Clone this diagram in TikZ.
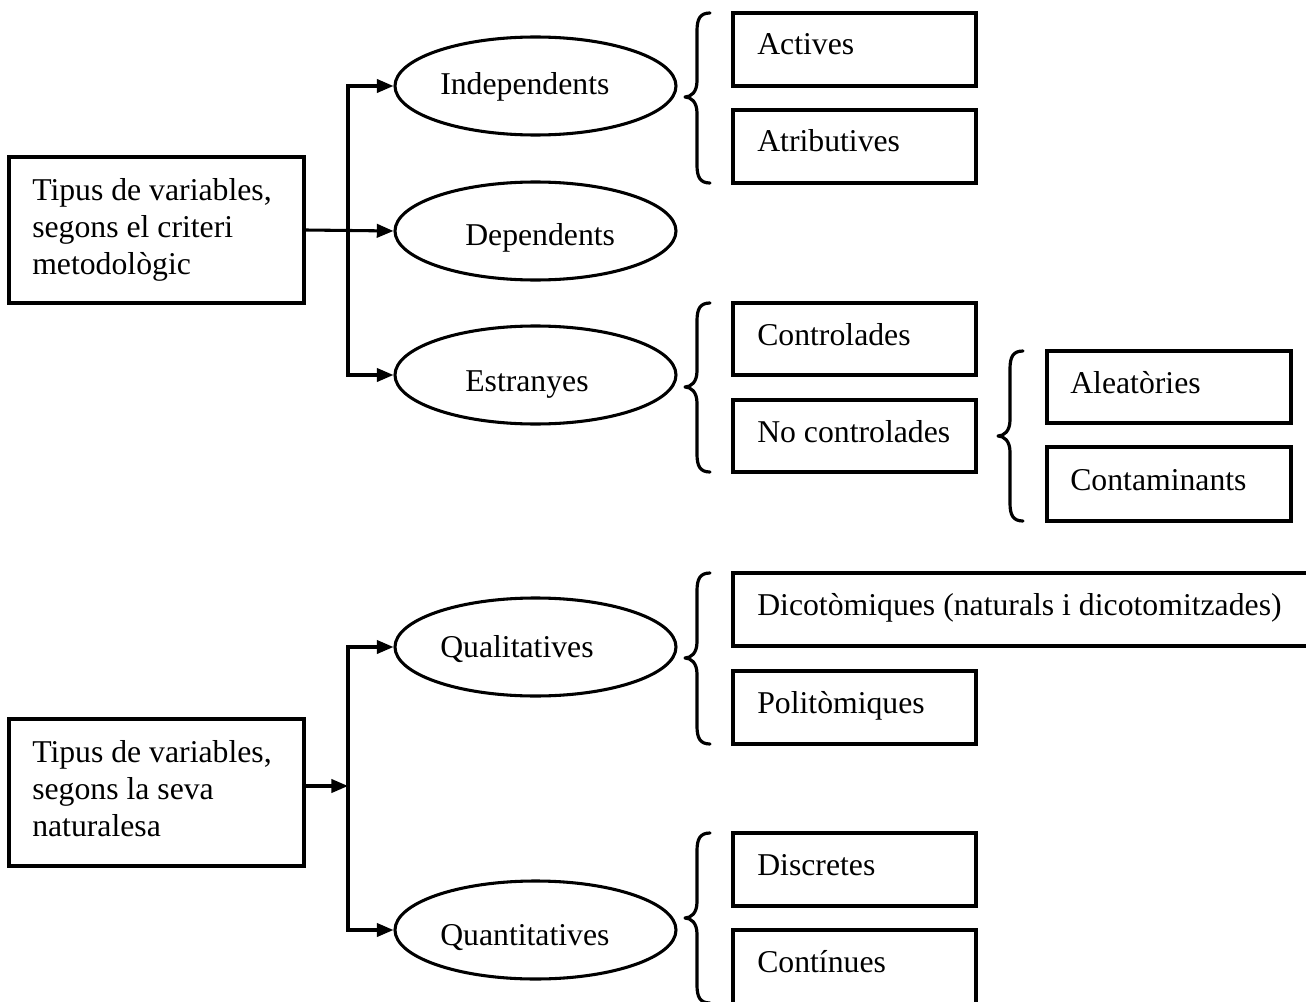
\documentclass[tikz,border=0pt]{standalone}
\usepackage{fontspec}
\setmainfont{Liberation Serif}
\usetikzlibrary{arrows.meta,fit,calc,shapes.geometric}

% Curly brace opening to the right: tip x, top y, tip y, bottom y
\newcommand{\openbrace}[4]{%
  \draw[curly] ({#1+25},#2) .. controls ({#1+15},#2) and ({#1+12},{#2+6}) .. ({#1+12},{#2+18})
    -- ({#1+12},{#3-16}) .. controls ({#1+12},{#3-5}) and ({#1+6},#3) .. (#1,#3)
    .. controls ({#1+6},#3) and ({#1+12},{#3+5}) .. ({#1+12},{#3+16})
    -- ({#1+12},{#4-18}) .. controls ({#1+12},{#4-6}) and ({#1+15},#4) .. ({#1+25},#4);}

\begin{document}
\begin{tikzpicture}[x=0.75pt,y=-0.75pt,
  frame/.style={draw, line width=2.4pt, rectangle, inner sep=0pt},
  oval/.style={draw, line width=2.3pt, ellipse, inner sep=0pt,
    minimum width=210.75pt, minimum height=73.5pt},
  lbl/.style={inner sep=0pt, font=\fontsize{23.8}{27.7}\selectfont},
  arr/.style={line width=2.3pt, -{Triangle[length=12.5pt,width=10pt]}},
  curly/.style={line width=2.4pt, line cap=round, line join=round}]

\fill[white] (0,0) rectangle (1306,1002);
\useasboundingbox (0,0) rectangle (1306,1002);
\clip (0,0) rectangle (1306,1002);

% ---------- methodological criterion ----------
\node[frame, fit={(9,157) (304,303)}] (ta) {};
\node[lbl, anchor=north west, align=left] (ta-t) at (32,178)
  {Tipus de variables,\\segons el criteri\\metodològic};

\node[oval] (ind) at (535.5,86) {};
\node[oval] (dep) at (535.5,231) {};
\node[oval] (est) at (535.5,375) {};
\node[lbl, anchor=base west] (ind-t) at (440,95) {Independents};
\node[lbl, anchor=base west] (dep-t) at (465,245) {Dependents};
\node[lbl, anchor=base west] (est-t) at (465,391) {Estranyes};

\coordinate (j1) at (348,231);
\draw[arr] (ta.east) -- (dep.west);
\draw[arr, line join=miter] (j1) |- (ind.west);
\draw[arr, line join=miter] (j1) |- (est.west);

\openbrace{685}{13}{97}{183}
\node[frame, fit={(733,13) (976,86)}] (act) {};
\node[frame, fit={(733,110) (976,183)}] (atr) {};
\node[lbl, anchor=base west] (act-t) at (757,55) {Actives};
\node[lbl, anchor=base west] (atr-t) at (757,152) {Atributives};

\openbrace{685}{303}{387}{472}
\node[frame, fit={(733,303) (976,375)}] (con) {};
\node[frame, fit={(733,400) (976,472)}] (ncon) {};
\node[lbl, anchor=base west] (con-t) at (757,345) {Controlades};
\node[lbl, anchor=base west] (ncon-t) at (757,442) {No controlades};

\openbrace{998}{351}{436}{521}
\node[frame, fit={(1047,351) (1291,423)}] (ale) {};
\node[frame, fit={(1047,447) (1291,521)}] (cont) {};
\node[lbl, anchor=base west] (ale-t) at (1070,393) {Aleatòries};
\node[lbl, anchor=base west] (cont-t) at (1070,490) {Contaminants};

% ---------- nature criterion ----------
\node[frame, fit={(9,719) (304,866)}] (tb) {};
\node[lbl, anchor=north west, align=left] (tb-t) at (32,740)
  {Tipus de variables,\\segons la seva\\naturalesa};

\node[oval] (qual) at (535.5,647) {};
\node[oval] (quan) at (535.5,930) {};
\node[lbl, anchor=base west] (qual-t) at (440,657) {Qualitatives};
\node[lbl, anchor=base west] (quan-t) at (440,945) {Quantitatives};

\coordinate (j2) at (348,786);
\draw[arr] (tb.east |- j2) -- (j2);
\draw[arr, line join=miter] (j2) |- (qual.west);
\draw[arr, line join=miter] (j2) |- (quan.west);

\openbrace{685}{573}{658}{744}
\node[frame, fit={(733,573) (1320,646)}] (dic) {};
\node[frame, fit={(733,671) (976,744)}] (pol) {};
\node[lbl, anchor=base west] (dic-t) at (757,615) {Dicotòmiques (naturals i dicotomitzades)};
\node[lbl, anchor=base west] (pol-t) at (757,713) {Politòmiques};

\openbrace{685}{833}{918}{1003}
\node[frame, fit={(733,833) (976,906)}] (dis) {};
\node[frame, fit={(733,930) (976,1012)}] (cnt) {};
\node[lbl, anchor=base west] (dis-t) at (757,875) {Discretes};
\node[lbl, anchor=base west] (cnt-t) at (757,972) {Contínues};

\end{tikzpicture}
\end{document}
